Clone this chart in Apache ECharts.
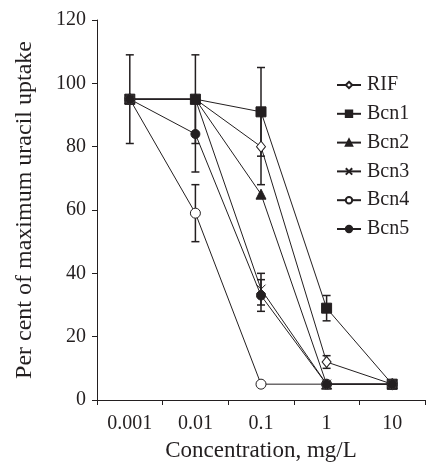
<!DOCTYPE html>
<html>
<head>
<meta charset="utf-8">
<script src="https://cdn.jsdelivr.net/npm/echarts@6/dist/echarts.min.js"></script>
<style>html,body{margin:0;padding:0;background:#fff}#c{width:445px;height:467px}</style>
</head>
<body>
<div id="c"></div>
<script>
const categories = ['0.001', '0.01', '0.1', '1', '10'];
const seriesNames = ['RIF', 'Bcn1', 'Bcn2', 'Bcn3', 'Bcn4', 'Bcn5'];
const RIF  = [95, 95, 80, 12, 5];
const Bcn1 = [95, 95, 91, 29, 5];
const Bcn2 = [95, 95, 65, 5, 5];
const Bcn3 = [95, 95, 35, 5, 5];
const Bcn4 = [95, 59, 5, 5, 5];
const Bcn5 = [95, 84, 33, 5, 5];
// error (± half-width) per point; 0 = no bar
const errRIF  = [0, 0, 12, 2, 0];
const errBcn1 = [14, 14, 14, 4, 0];
const errBcn2 = [0, 0, 0, 0, 0];
const errBcn3 = [0, 0, 5, 0, 0];
const errBcn4 = [0, 9, 0, 0, 0];
const errBcn5 = [0, 12, 5, 0, 0];
const yTicks = [0, 20, 40, 60, 80, 100, 120];

const ink = '#231f20';
const font = '"Liberation Serif", "Times New Roman", serif';

const values = [RIF, Bcn1, Bcn2, Bcn3, Bcn4, Bcn5];
const errs = [errRIF, errBcn1, errBcn2, errBcn3, errBcn4, errBcn5];
const symbols = ['diamond', 'rect', 'triangle', 'path://M0,0L10,10M10,0L0,10', 'circle', 'circle'];
const sizes = [[9, 11], 10, 10, 9, 10, 9];
const fills = ['#fff', ink, ink, 'none', '#fff', ink];

const errData = [];
values.forEach((vals, s) => {
  vals.forEach((v, i) => {
    const e = errs[s][i];
    if (e > 0) errData.push([i, v - e, v + e]);
  });
});

const series = [{
  type: 'custom',
  name: 'err',
  z: 1,
  silent: true,
  data: errData,
  renderItem: function (params, api) {
    const x = api.value(0);
    const pLo = api.coord([x, api.value(1)]);
    const pHi = api.coord([x, api.value(2)]);
    const w = 4;
    const st = { stroke: ink, lineWidth: 1.5 };
    return {
      type: 'group',
      children: [
        { type: 'line', shape: { x1: pLo[0], y1: pLo[1], x2: pHi[0], y2: pHi[1] }, style: st },
        { type: 'line', shape: { x1: pLo[0] - w, y1: pLo[1], x2: pLo[0] + w, y2: pLo[1] }, style: st },
        { type: 'line', shape: { x1: pHi[0] - w, y1: pHi[1], x2: pHi[0] + w, y2: pHi[1] }, style: st }
      ]
    };
  }
}];

seriesNames.forEach((name, s) => {
  series.push({
    type: 'line',
    name: name,
    z: 2,
    data: values[s],
    symbol: symbols[s],
    symbolSize: sizes[s],
    showAllSymbol: true,
    lineStyle: { color: ink, width: 1 },
    itemStyle: { color: fills[s], borderColor: ink, borderWidth: 1, opacity: 1 },
    emphasis: { disabled: true },
    animation: false
  });
});

const chart = echarts.init(document.getElementById('c'), null, { renderer: 'canvas' });
chart.setOption({
  animation: false,
  backgroundColor: '#fff',
  textStyle: { fontFamily: font, color: ink },
  grid: { left: 97, right: 20, top: 20, bottom: 65, containLabel: false },
  legend: {
    orient: 'vertical',
    left: 336,
    top: 75,
    padding: 0,
    itemWidth: 24,
    itemHeight: 8,
    itemGap: 8.8,
    data: seriesNames,
    textStyle: { fontFamily: font, fontSize: 20, lineHeight: 20, color: ink, padding: [0, 0, 0, 1] }
  },
  xAxis: {
    type: 'category',
    data: categories,
    boundaryGap: true,
    name: 'Concentration, mg/L',
    nameLocation: 'middle',
    nameGap: 39,
    nameTextStyle: { fontFamily: font, fontSize: 23, color: ink },
    axisLine: { lineStyle: { color: ink, width: 1 } },
    axisTick: { show: true, length: 5, lineStyle: { color: ink } },
    axisLabel: { fontFamily: font, fontSize: 20, color: ink, margin: 14 },
    splitLine: { show: false }
  },
  yAxis: {
    type: 'value',
    min: yTicks[0],
    max: yTicks[yTicks.length - 1],
    interval: 20,
    name: 'Per cent of maximum uracil uptake',
    nameLocation: 'middle',
    nameGap: 60,
    nameTextStyle: { fontFamily: font, fontSize: 24, color: ink },
    axisLine: { show: true, lineStyle: { color: ink, width: 1 } },
    axisTick: { show: true, length: 5, lineStyle: { color: ink } },
    axisLabel: { fontFamily: font, fontSize: 20, color: ink, margin: 11 },
    splitLine: { show: false }
  },
  series: series
});
</script>
</body>
</html>
